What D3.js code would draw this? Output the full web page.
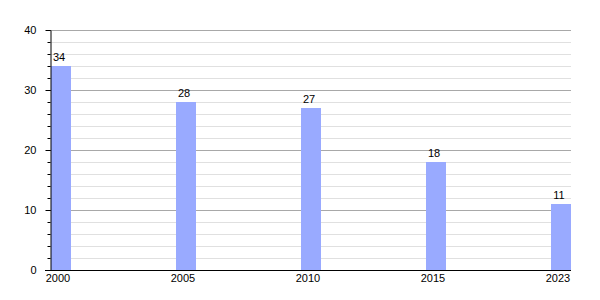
<!DOCTYPE html>
<meta charset="utf-8">
<style>
    body { margin: 0; background: #fff; }
    svg { font: 11px "Liberation Sans", Arial, sans-serif; }
    .grid-minor line { stroke: #e0e0e0; }
    .grid-major line { stroke: #a8a8a8; }
    .axis .domain, .axis line { stroke: #000; }
    text { fill: #000; }
</style>
<body>
<script src="https://cdn.jsdelivr.net/npm/d3@7"></script>
<script>
    var years = ["2000", "2005", "2010", "2015", "2023"];
    var values = [34, 28, 27, 18, 11];
    var yTicks = [0, 10, 20, 30, 40];

    var width = 600, height = 300,
        plotLeft = 50, plotRight = 571, plotTop = 30, plotBottom = 270,
        barWidth = 20;

    var svg = d3.select("body").append("svg")
        .attr("width", width)
        .attr("height", height);

    var x = d3.scalePoint()
        .domain(years)
        .range([plotLeft + 1, plotRight - barWidth]);

    var y = d3.scaleLinear()
        .domain([0, 40])
        .range([plotBottom, plotTop]);

    var minor = d3.range(0, 41, 2);

    // minor gridlines every 2
    svg.append("g").attr("class", "grid-minor")
        .selectAll("line")
        .data(minor.filter(d => d % 10 != 0))
        .enter().append("line")
        .attr("x1", plotLeft).attr("x2", plotRight)
        .attr("y1", d => y(d) + 0.5).attr("y2", d => y(d) + 0.5);

    svg.append("g").attr("class", "grid-major")
        .selectAll("line")
        .data(yTicks.filter(d => d != 0))
        .enter().append("line")
        .attr("x1", plotLeft).attr("x2", plotRight)
        .attr("y1", d => y(d) + 0.5).attr("y2", d => y(d) + 0.5);

    svg.append("g")
        .selectAll("rect")
        .data(values)
        .enter().append("rect")
        .attr("x", (d, i) => x(years[i]))
        .attr("y", d => y(d))
        .attr("width", barWidth)
        .attr("height", d => y(0) - y(d))
        .attr("fill", "#99aaff");

    svg.append("g")
        .selectAll("text")
        .data(values)
        .enter().append("text")
        .attr("x", (d, i) => x(years[i]) + barWidth / 2 - 2)
        .attr("y", d => y(d) - 5)
        .attr("text-anchor", "middle")
        .text(d => d);

    // y axis with minor ticks
    svg.append("g")
        .attr("class", "axis")
        .attr("transform", "translate(" + (plotLeft + 0.5) + ",0)")
        .call(d3.axisLeft(y).tickValues(minor).tickSize(3).tickFormat(""))
        .call(g => g.select(".domain").remove());

    svg.append("g")
        .attr("class", "axis")
        .attr("transform", "translate(" + (plotLeft + 0.5) + ",0)")
        .call(d3.axisLeft(y).tickValues(yTicks).tickSize(5).tickSizeOuter(0).tickPadding(9))
        .call(g => g.selectAll("text").attr("font-size", 11).attr("font-family", null));

    svg.append("line")
        .attr("x1", plotLeft - 5).attr("x2", plotRight)
        .attr("y1", plotBottom + 0.5).attr("y2", plotBottom + 0.5)
        .attr("stroke", "#000");

    svg.append("g")
        .selectAll("text")
        .data(years)
        .enter().append("text")
        .attr("x", d => x(d) + barWidth / 2 - 3)
        .attr("y", plotBottom + 12)
        .attr("text-anchor", "middle")
        .text(d => d);
</script>
</body>
